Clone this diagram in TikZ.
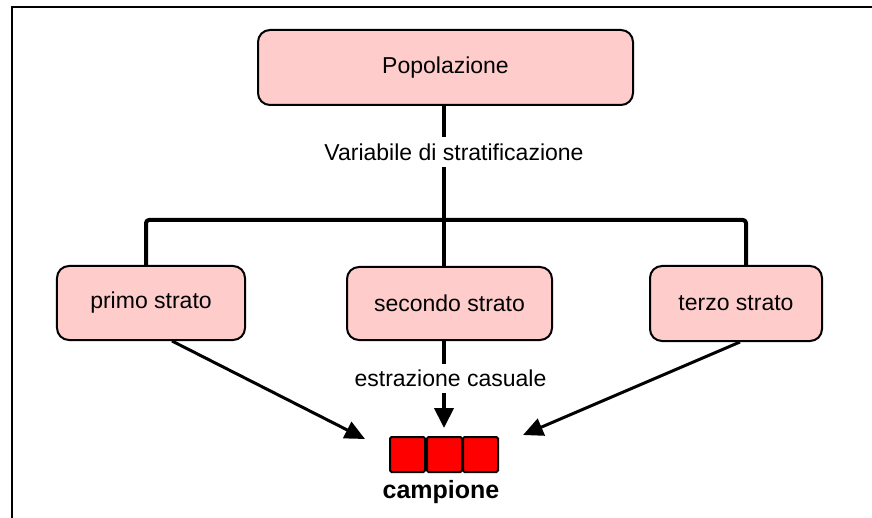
\documentclass[tikz,border=0pt]{standalone}
\usepackage{fontspec}
\setmainfont{Liberation Sans}
\usetikzlibrary{arrows.meta}
\definecolor{boxpink}{HTML}{FFCCCC}
\begin{document}
\begin{tikzpicture}[x=1bp,y=-1bp,
  box/.style={draw=black, line width=2bp, fill=boxpink, rounded corners=12bp,
    font=\fontsize{23bp}{27bp}\selectfont, inner sep=0pt},
  conn/.style={line width=4bp, line join=round},
  diag/.style={line width=3bp, -{Triangle[length=20bp,width=18bp]}},
  down/.style={line width=4bp, -{Triangle[length=20bp,width=19bp]}},
  lbl/.style={fill=white, font=\fontsize{23bp}{27bp}\selectfont, inner sep=2bp, minimum height=30bp},
  sq/.style={draw=black, line width=2bp, fill=red, minimum size=35bp, rounded corners=1.5bp, inner sep=0pt},
  frame/.style={line width=2bp}]
\useasboundingbox (0,0) rectangle (872,518);
% frame
\coordinate (fbl) at (12,518);
\coordinate (ftl) at (12,7);
\coordinate (ftr) at (872,7);
\draw[frame] (fbl) -- (ftl) -- (ftr);
% boxes
\node[box, minimum width=375bp, minimum height=75bp] (pop) at (445.5,67.5) {Popolazione};
\node[box, minimum width=188bp, minimum height=74bp] (primo) at (151,303) {primo strato};
\node[box, minimum width=205bp, minimum height=73bp] (secondo) at (449.5,303.5) {secondo strato};
\node[box, minimum width=172bp, minimum height=75bp] (terzo) at (736,303.5) {terzo strato};
% tree connectors
\coordinate (j) at (444,220);
\coordinate (hl) at (146,220);
\coordinate (hr) at (746,220);
\draw[conn] (pop.south -| j) -- (j);
\draw[conn, rounded corners=3bp] (primo.north -| hl) -- (hl) -- (hr) -- (terzo.north -| hr);
\draw[conn] (j) -- (secondo.north -| j);
\node[lbl] (var) at (454,152) {Variabile di stratificazione};
% sample squares
\node[sq] (s1) at (407.5,454.5) {};
\node[sq] (s2) at (444.5,454.5) {};
\node[sq] (s3) at (480.5,454.5) {};
\node[font=\fontsize{25bp}{29bp}\selectfont\bfseries] (camp) at (441,492) {campione};
% arrows
\coordinate (tipL) at (365,439);
\coordinate (tipR) at (523,435);
\coordinate (tipM) at (444,428);
\draw[diag] ([xshift=21bp]primo.south) -- (tipL);
\draw[diag] ([xshift=4bp]terzo.south) -- (tipR);
\draw[down] (secondo.south -| tipM) -- (tipM);
\node[lbl, minimum height=29bp] (estr) at (450.5,378) {estrazione casuale};
\end{tikzpicture}
\end{document}
